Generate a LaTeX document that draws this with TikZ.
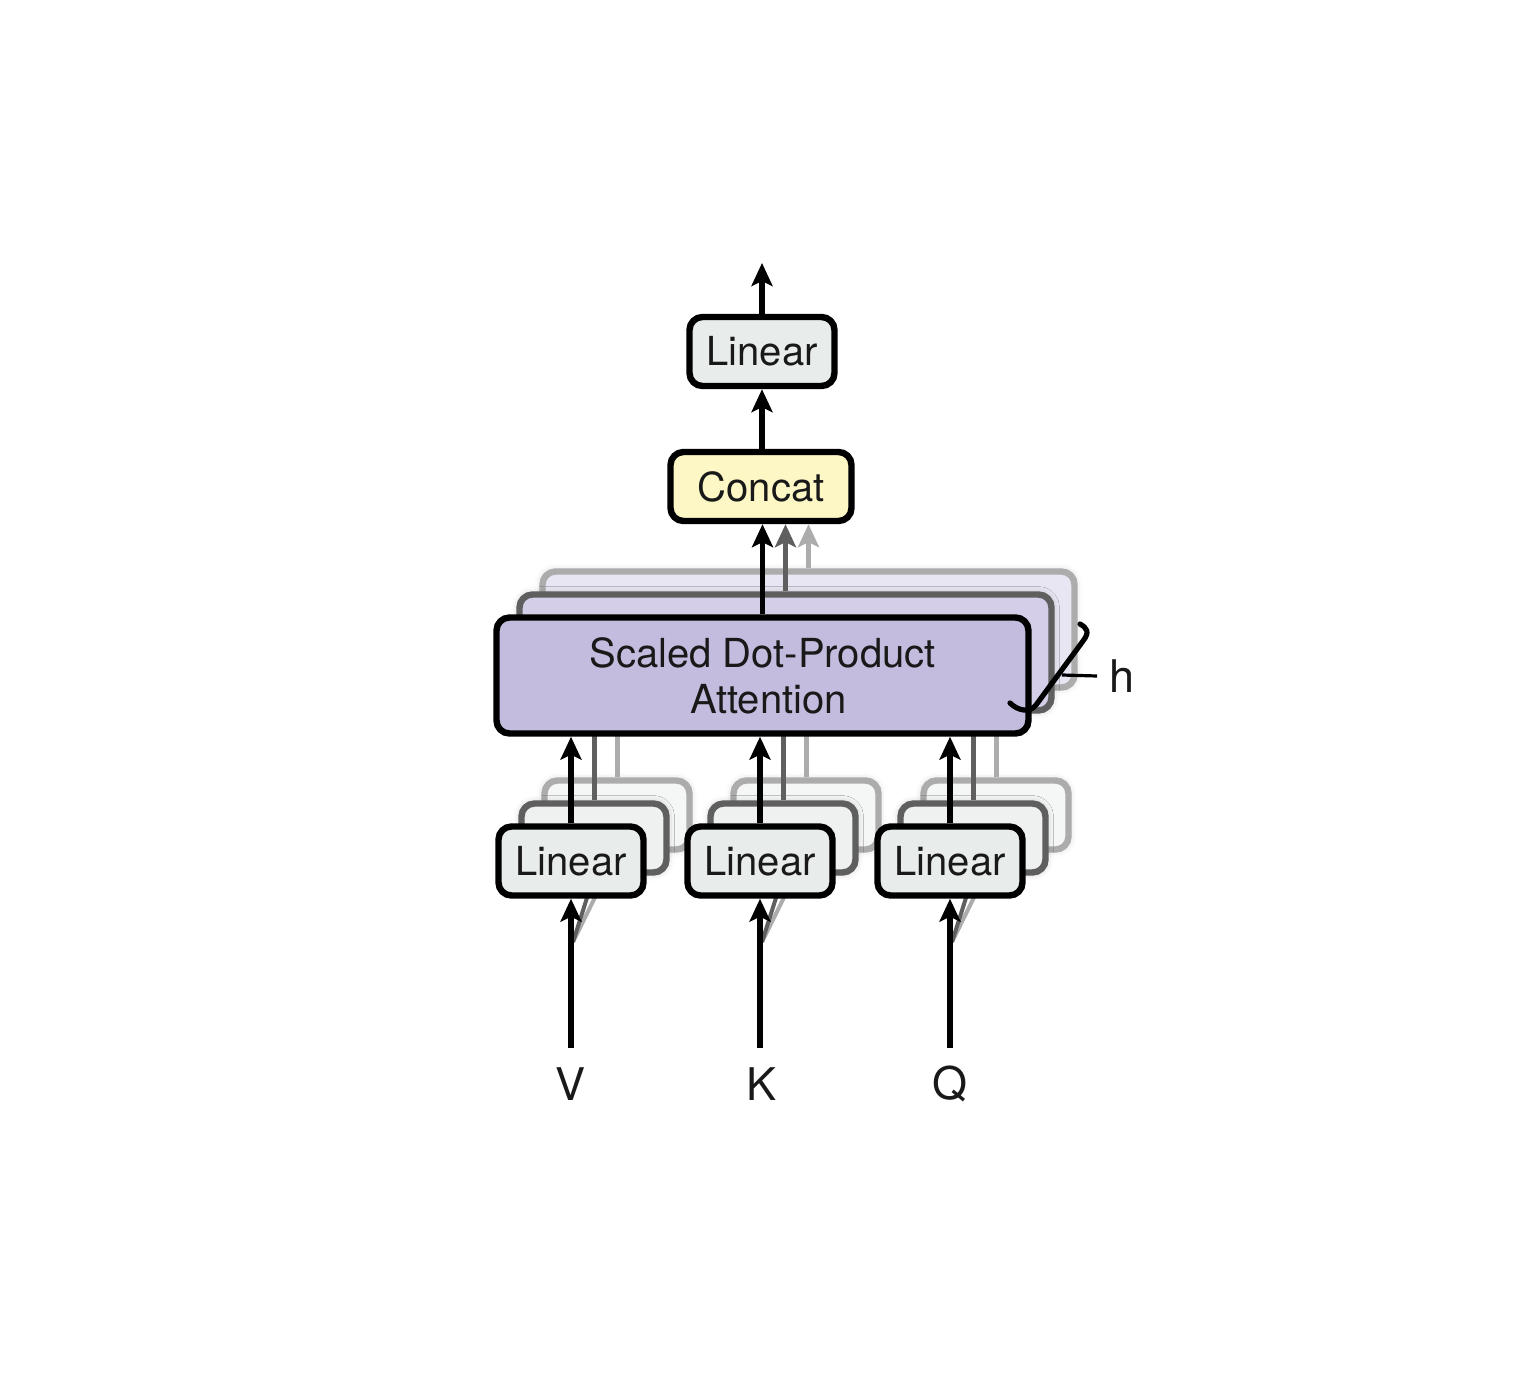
\documentclass[tikz,border=0pt]{standalone}
\usepackage{fontspec}
\setmainfont{TeX Gyre Heros}
\usetikzlibrary{arrows.meta,shadows.blur,calc}
\definecolor{linfill}{RGB}{232,236,234}
\definecolor{linfillB}{RGB}{238,241,239}
\definecolor{linfillC}{RGB}{245,247,246}
\definecolor{catfill}{RGB}{252,247,196}
\definecolor{attfill}{RGB}{196,188,222}
\definecolor{attfillB}{RGB}{212,206,232}
\definecolor{attfillC}{RGB}{233,230,243}
\definecolor{edgeB}{RGB}{95,95,95}
\definecolor{edgeC}{RGB}{172,172,172}
\definecolor{txt}{RGB}{25,25,25}
\begin{document}
\begin{tikzpicture}[x=0.5pt,y=-0.5pt,
  box/.style={draw=black, line width=3.2pt, rounded corners=6.5pt, inner sep=0pt,
    font=\fontsize{20}{23.5}\selectfont, text=txt, align=center},
  boxB/.style={box, draw=edgeB, blur shadow={shadow xshift=0pt,shadow yshift=0pt,shadow blur radius=4pt,shadow opacity=25}},
  boxC/.style={box, draw=edgeC, blur shadow={shadow xshift=0pt,shadow yshift=0pt,shadow blur radius=4pt,shadow opacity=20}},
  linsize/.style={minimum width=72.5pt, minimum height=34.5pt},
  attsize/.style={minimum width=266pt, minimum height=58pt},
  arr/.style={line width=2.6pt, -{Stealth[length=11.5pt,width=10.5pt,inset=2.5pt]}},
  plain/.style={line width=2.5pt},
  lbl/.style={font=\fontsize{22.5}{26}\selectfont, text=txt, inner sep=0pt}
]
\useasboundingbox (0,0) rectangle (1527,1392);

% ---------- bottom linear layers (back) ----------
\foreach \n/\x in {v/571,k/760,q/950}{
  \node[boxC, linsize, fill=linfillC] (\n3) at (\x+46,861-46) {};
}
\foreach \n/\x in {v/571,k/760,q/950}{
  \draw[plain, draw=edgeC] (\n3.north) -- (\n3.north |- 0,735);
}
\foreach \n/\x in {v/571,k/760,q/950}{
  \node[boxB, linsize, fill=linfillB] (\n2) at (\x+23,861-23) {};
}
\foreach \n/\x in {v/571,k/760,q/950}{
  \draw[plain, draw=edgeB] (\n2.north) -- (\n2.north |- 0,735);
}
% input coordinates and diagonal hidden arrows
\foreach \n/\x in {v/571,k/760,q/950}{
  \coordinate (\n in) at (\x,1048);
  \coordinate (\n d) at (\x+2,942);
  \draw[plain, draw=edgeC, line width=2pt] (\n d) -- (\n3.south);
  \draw[plain, draw=edgeB, line width=2pt] (\n d) -- (\n2.south);
}
% front linear boxes
\foreach \n/\x in {v/571,k/760,q/950}{
  \node[box, linsize, fill=linfill] (\n1) at (\x,861) {Linear};
  \draw[arr] (\n in) -- (\n1.south);
}

% ---------- attention layers ----------
\node[boxC, attsize, fill=attfillC] (att3) at (762.5+46,675.5-46) {};
\node[boxB, attsize, fill=attfillB] (att2) at (762.5+23,675.5-23) {};
\node[box, attsize, fill=attfill] (att1) at (762.5,675.5) {Scaled Dot-Product\\[-0.5pt]\hspace*{6pt}Attention};

% arrows from linear to attention
\foreach \n in {v,k,q}{
  \draw[arr] (\n1.north) -- (\n1.north |- att1.south);
}

% ---------- concat and top linear ----------
\node[box, minimum width=90.5pt, minimum height=34.5pt, fill=catfill] (cat) at (761,486.5) {Concat};
\node[box, linsize, fill=linfill] (top) at (762,351.5) {Linear};
\coordinate (out) at (762,263);

\draw[arr, draw=edgeC] (att3.north) -- (att3.north |- cat.south);
\draw[arr, draw=edgeB] (att2.north) -- (att2.north |- cat.south);
\draw[arr] (att1.north) -- (att1.north |- cat.south);
\draw[arr] (cat.north -| top.south) -- (top.south);
\draw[arr] (top.north) -- (out);

% ---------- h brace ----------
\draw[line width=2.6pt, line cap=round, line join=round]
  (1010,703) .. controls (1018,711) and (1030,713) .. (1036,705)
  -- (1083,641) .. controls (1090,632) and (1087,628) .. (1080,624);
\coordinate (hA) at (1062,675);
\node[lbl] (h) at (1122,676) {h};
\draw[line width=1.6pt] (hA) -- ([xshift=-6pt]h.west);

% ---------- labels ----------
\node[lbl] (V) at (571,1084) {V};
\node[lbl] (K) at (761,1084) {K};
\node[lbl] (Q) at (950,1084) {Q};
\end{tikzpicture}
\end{document}
